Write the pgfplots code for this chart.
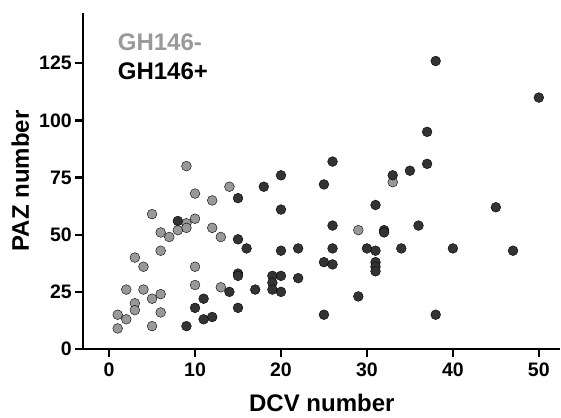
\documentclass[border=0pt]{standalone}
\usepackage{pgfplots}
\pgfplotsset{compat=1.18}
\usepackage{fontspec}
\setmainfont{Liberation Sans}

\definecolor{negcol}{RGB}{153,153,153}
\definecolor{poscol}{RGB}{51,51,51}

\begin{document}
\begin{tikzpicture}
\begin{axis}[
    at={(0,0)}, anchor=south west,
    scale only axis,
    width=477pt, height=336pt,
    xmin=-3, xmax=52.5,
    ymin=0, ymax=147,
    axis lines=left,
    axis line style={line width=2.3pt, -},
    xtick={0,10,...,50},
    ytick={0,25,...,125},
    tick align=outside,
    major tick length=8pt,
    every tick/.style={black, line width=2.3pt},
    tick label style={font=\bfseries\fontsize{19.5}{19.5}\selectfont},
    /pgf/number format/assume math mode=true,
    xticklabel style={yshift=-2pt},
    yticklabel style={xshift=0pt},
    xlabel={DCV number},
    ylabel={PAZ number},
    xlabel style={at={(axis description cs:0.5,0)}, anchor=center, yshift=-54pt, font=\bfseries\fontsize{24}{24}\selectfont},
    every axis y label/.style={at={(axis description cs:-0.132,0.5)}, anchor=center, rotate=90, font=\bfseries\fontsize{24}{24}\selectfont},
    clip=false,
]

% GH146- (grey)
\addplot[only marks, mark=*, mark size=4.9pt, mark options={draw=none, fill=negcol}] coordinates {
    (9,80) (10,68) (14,71) (12,65) (5,59) (10,57) (9,55) (9,53) (8,52)
    (6,51) (7,49) (12,53) (13,49) (6,43) (3,40) (4,36) (10,36) (10,28)
    (13,27) (2,26) (4,26) (6,24) (5,22) (3,20) (3,17) (1,15) (2,13)
    (6,16) (1,9) (5,10) (29,52) (33,73)
};

% GH146+ (dark)
\addplot[only marks, mark=*, mark size=4.9pt, mark options={draw=none, fill=poscol}] coordinates {
    (8,56) (9,10) (10,18) (11,22) (11,13) (12,14) (14,25) (15,66) (15,48)
    (15,33) (15,32) (15,18) (16,44) (17,26) (18,71) (19,32) (19,29) (19,26)
    (20,76) (20,61) (20,43) (20,32) (20,25) (22,44) (22,31) (25,72) (25,38)
    (25,15) (26,82) (26,54) (26,44) (26,37) (29,23) (30,44) (31,63) (31,43)
    (31,38) (31,36) (31,34) (32,52) (32,51) (33,76) (34,44) (35,78) (36,54)
    (37,95) (37,81) (38,126) (38,15) (40,44) (45,62) (47,43) (50,110)
};

\node[anchor=west, text=negcol, font=\bfseries\fontsize{24}{24}\selectfont, inner sep=0pt] at (axis cs:1,134) {GH146-};
\node[anchor=west, text=black, font=\bfseries\fontsize{24}{24}\selectfont, inner sep=0pt] at (axis cs:1,121.7) {GH146+};
\end{axis}
\pgfresetboundingbox
\path (-83.3pt,-68pt) rectangle (477.7pt,349pt);
\end{tikzpicture}
\end{document}
